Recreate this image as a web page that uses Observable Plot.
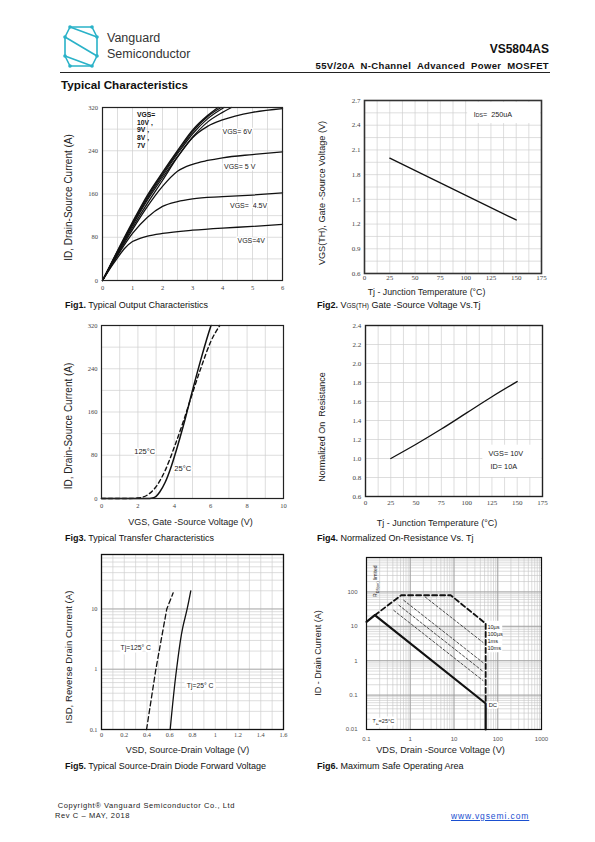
<!DOCTYPE html>
<html><head><meta charset="utf-8">
<script src="https://cdn.jsdelivr.net/npm/d3@7"></script>
<script src="https://cdn.jsdelivr.net/npm/@observablehq/plot@0.6"></script>
<style>
body{margin:0;width:595px;height:842px;position:relative;background:#fff;font-family:"Liberation Sans",Arial,sans-serif;color:#111;overflow:hidden}
.abs{position:absolute;white-space:nowrap;line-height:1}
.cap{font-size:9px;line-height:12px;color:#111}
svg{overflow:visible}
</style></head><body>
<svg class="abs" style="left:58px;top:20px" width="48" height="52" viewBox="58 20 48 52">
  <g fill="none" stroke="#2ab2c8" stroke-width="1.6" stroke-linejoin="round">
    <path d="M92,27 L70,27 L65,37 L97,56 L92,66 L70,66"/>
    <path d="M65,37 L65,56 L70,66 M97,56 L97,37 L92,27"/>
    <path d="M70,27 L97,37 M65,56 L92,66"/>
  </g>
  <g fill="#2ab2c8">
    <circle cx="70" cy="27" r="1.8"/><circle cx="92" cy="27" r="1.8"/><circle cx="65" cy="37" r="1.8"/><circle cx="97" cy="37" r="1.8"/>
    <circle cx="65" cy="56" r="1.8"/><circle cx="97" cy="56" r="1.8"/><circle cx="70" cy="66" r="1.8"/><circle cx="92" cy="66" r="1.8"/>
  </g>
</svg>
<div class="abs" style="left:107px;top:32.4px;font-size:12.5px;color:#333">Vanguard</div>
<div class="abs" style="left:107px;top:48.4px;font-size:12.5px;color:#333">Semiconductor</div>
<div class="abs" style="right:46px;top:42.8px;font-size:12px;font-weight:bold">VS5804AS</div>
<div class="abs" style="right:46px;top:61px;font-size:9.5px;font-weight:bold;letter-spacing:0.35px;word-spacing:3px">55V/20A N-Channel Advanced Power MOSFET</div>
<div class="abs" style="left:60px;top:71.5px;width:490px;height:1px;background:#222"></div>
<div class="abs" style="left:61px;top:79.1px;font-size:11.7px;font-weight:bold">Typical Characteristics</div>

<div class="abs cap" style="left:65px;top:298.5px"><b>Fig1.</b> Typical Output Characteristics</div>
<div class="abs cap" style="left:317px;top:298.5px"><b>Fig2.</b> V<span style="font-size:6.5px">GS(TH)</span> Gate -Source Voltage Vs.Tj</div>
<div class="abs cap" style="left:65px;top:532px"><b>Fig3.</b> Typical Transfer Characteristics</div>
<div class="abs cap" style="left:317px;top:532px"><b>Fig4.</b> Normalized On-Resistance Vs. Tj</div>
<div class="abs cap" style="left:65px;top:760px"><b>Fig5.</b> Typical Source-Drain Diode Forward Voltage</div>
<div class="abs cap" style="left:317px;top:760px"><b>Fig6.</b> Maximum Safe Operating Area</div>

<div class="abs" style="left:57.7px;top:801.7px;font-size:7.5px;letter-spacing:0.6px;color:#222">Copyright® Vanguard Semiconductor Co., Ltd</div>
<div class="abs" style="left:55px;top:812.2px;font-size:7.5px;letter-spacing:0.6px;color:#222">Rev C – MAY, 2018</div>
<div class="abs" style="left:451px;top:811.8px;font-size:8.5px;letter-spacing:0.9px;color:#1a4fd0;text-decoration:underline">www.vgsemi.com</div>

<script>
// ---------------- DATA ----------------
// Fig1 – Typical output characteristics: [VDS (V), ID (A)]
const out10V = [[0,0],[0.5,55],[1,108],[1.5,158],[2,200],[2.5,240],[3,278],[3.5,305],[3.85,320]];
const out9V  = [[0,0],[0.5,54],[1,106],[1.5,155],[2,197],[2.5,237],[3,275],[3.5,303],[3.95,320]];
const out8V  = [[0,0],[0.5,53],[1,104],[1.5,152],[2,194],[2.5,234],[3,271],[3.5,299],[4.05,320]];
const out7V  = [[0,0],[0.5,52],[1,102],[1.5,149],[2,190],[2.5,229],[3,265],[3.5,293],[4,311],[4.3,320]];
const out6V  = [[0,0],[0.5,50],[1,98],[1.5,143],[2,185],[2.5,228],[3,264],[3.5,285],[4,297],[5,311],[6,318]];
const out5V  = [[0,0],[0.5,48],[1,94],[1.5,137],[2,174],[2.5,202],[3,215],[3.5,222],[4,227],[5,233],[6,238]];
const out45V = [[0,0],[0.5,46],[1,87],[1.5,117],[2,137],[2.5,146],[3,151],[4,155],[5,158],[6,162]];
const out4V  = [[0,0],[0.25,22],[0.5,42],[0.75,60],[1,72],[1.25,78],[1.5,82],[2,87],[3,93],[4,97],[5,100],[6,104]];
const f1XTicks = [0,1,2,3,4,5,6];
const f1YTicks = [0,80,160,240,320];

// Fig2 – VGS(TH) vs Tj
const vthTj = [25,150];
const vthV  = [2.0,1.25];
const f2XTicks = [0,25,50,75,100,125,150,175];
const f2YTicks = [0.6,0.9,1.2,1.5,1.8,2.1,2.4,2.7];

// Fig3 – Transfer characteristics: [VGS (V), ID (A)]
const tr25C  = [[0,0],[2.5,0],[2.8,1],[3.0,4],[3.2,12],[3.5,30],[3.8,56],[4.1,88],[4.5,135],[5,200],[5.5,262],[6,318],[6.02,320]];
const tr125C = [[0,0],[1.5,0],[2,1],[2.5,6],[3,22],[3.5,52],[4,95],[4.5,143],[5,195],[5.5,245],[6,290],[6.5,320]];
const f3XTicks = [0,2,4,6,8,10];
const f3YTicks = [0,80,160,240,320];

// Fig4 – Normalized Rds(on) vs Tj
const rdsTj = [25,50,75,100,125,150];
const rdsN  = [1.0,1.15,1.31,1.48,1.65,1.81];
const f4XTicks = [0,25,50,75,100,125,150,175];
const f4YTicks = [0.6,0.8,1.0,1.2,1.4,1.6,1.8,2.0,2.2,2.4];

// Fig5 – Diode forward voltage: [VSD (V), ISD (A)]
const diode125C = [[0.396,0.1],[0.478,1],[0.574,10],[0.63,18.5]];
const diode25C  = [[0.604,0.1],[0.66,1],[0.715,5],[0.753,10],[0.785,20]];
const f5XTicks = [0,0.2,0.4,0.6,0.8,1,1.2,1.4,1.6];
const f5YTicks = [0.1,1,10];

// Fig6 – Safe operating area: [VDS (V), ID (A)]
const soaDC     = [[0.1,13.4],[0.155,21],[53,0.057],[53,0.01]];
const soaLimit  = [[0.155,21],[0.62,80],[8.4,80],[53,12],[53,0.057]];
const soa10us   = [[2.2,71],[46,3.4]];
const soa100us  = [[0.71,57],[46,0.88]];
const soa1ms    = [[0.55,41],[46,0.49]];
const soa10ms   = [[0.42,29],[46,0.265]];
const f6XTicks = [0.1,1,10,100,1000];
const f6YTicks = [0.01,0.1,1,10,100];

// ---------------- helpers ----------------
const GRID = "#cfcfcf";
const X = d => d[0], Y = d => d[1];
function logMinor(lo, hi) { // 1..9 x decade gridline positions
  const out = [];
  for (let e = Math.round(Math.log10(lo)); e < Math.round(Math.log10(hi)); e++)
    for (let m = 1; m <= 9; m++) out.push(m * Math.pow(10, e));
  out.push(hi);
  return out.filter(v => v <= hi * 1.0001);
}
function chart({x0,x1,y0,y1,x,y,marks}) {
  const ML=70, MR=30, MT=15, MB=45;
  const svg = Plot.plot({
    width: x1-x0+ML+MR, height: y1-y0+MT+MB,
    marginLeft: ML, marginRight: MR, marginTop: MT, marginBottom: MB,
    x, y,
    style: {background: "transparent", overflow: "visible", fontFamily: "Liberation Sans, Arial, sans-serif"},
    marks
  });
  svg.style.position = "absolute";
  svg.style.left = (x0-ML) + "px";
  svg.style.top = (y0-MT) + "px";
  svg.style.maxWidth = "none";
  document.body.appendChild(svg);
  return svg;
}
function yLabel(t, dx, dy, size) {
  return Plot.text([t], {text: d => d, frameAnchor: "left", textAnchor: "middle", lineAnchor: "middle", dx, dy, rotate: -90, fontSize: size, fill: "#222"});
}
function xLabel(t, dx, dy, size) {
  return Plot.text([t], {text: d => d, frameAnchor: "bottom", textAnchor: "middle", lineAnchor: "middle", dx, dy, fontSize: size, fill: "#222"});
}
function axX(ticks, pad, opts = {}) {
  return Plot.axisX(ticks, {tickSize: 0, tickPadding: pad, label: null, fontSize: 6.5, fontFamily: "Liberation Serif, serif", fill: "#444", tickFormat: d => String(d), ...opts});
}
function axY(ticks, pad, opts = {}) {
  return Plot.axisY(ticks, {tickSize: 0, tickPadding: pad, label: null, fontSize: 6.5, fontFamily: "Liberation Serif, serif", fill: "#444", tickFormat: d => String(d), ...opts});
}
function subscript(svg, full, parts) {
  for (const t of svg.querySelectorAll("text")) {
    if (t.textContent !== full) continue;
    t.textContent = "";
    let shift = 0;
    for (const [s, size, dy] of parts) {
      const ts = document.createElementNS("http://www.w3.org/2000/svg", "tspan");
      ts.textContent = s;
      if (size) ts.setAttribute("font-size", size);
      const d = (dy || 0) - shift;
      if (d) ts.setAttribute("dy", d);
      shift = dy || 0;
      t.appendChild(ts);
    }
  }
}
const lineStyle = {x: X, y: Y, stroke: "#111", curve: "monotone-x"};

// ---------------- Fig1 ----------------
chart({
  x0: 102, x1: 282, y0: 107, y1: 280,
  x: {domain: [0, 6]}, y: {domain: [0, 320]},
  marks: [
    Plot.gridX(d3.range(0, 6.01, 0.5), {stroke: GRID, strokeOpacity: 1, strokeWidth: 0.7}),
    Plot.gridY(d3.range(0, 321, 40), {stroke: GRID, strokeOpacity: 1, strokeWidth: 0.7}),
    Plot.line(out4V,  {...lineStyle, strokeWidth: 1.3}),
    Plot.line(out45V, {...lineStyle, strokeWidth: 1.3}),
    Plot.line(out5V,  {...lineStyle, strokeWidth: 1.3}),
    Plot.line(out6V,  {...lineStyle, strokeWidth: 1.3}),
    Plot.line(out7V,  {...lineStyle, strokeWidth: 1.2}),
    Plot.line(out8V,  {...lineStyle, strokeWidth: 1.2}),
    Plot.line(out9V,  {...lineStyle, strokeWidth: 1.2}),
    Plot.line(out10V, {...lineStyle, strokeWidth: 1.4}),
    Plot.text(["VGS= 6V"],   {text: d => d, x: 4.0,  y: 276, textAnchor: "start", fontSize: 7, fill: "#222", stroke: "white", strokeWidth: 3}),
    Plot.text(["VGS= 5 V"],  {text: d => d, x: 4.05, y: 210, textAnchor: "start", fontSize: 7, fill: "#222", stroke: "white", strokeWidth: 3}),
    Plot.text(["VGS=  4.5V"],{text: d => d, x: 4.25, y: 138, textAnchor: "start", fontSize: 7, fill: "#222", stroke: "white", strokeWidth: 3}),
    Plot.text(["VGS=4V"],    {text: d => d, x: 4.5,  y: 74,  textAnchor: "start", fontSize: 7, fill: "#222", stroke: "white", strokeWidth: 3}),
    Plot.text(["VGS=\n10V ,\n9V ,\n8V ,\n7V"], {text: d => d, x: 1.15, y: 313, textAnchor: "start", lineAnchor: "top", lineHeight: 1.15, fontSize: 6.8, fontWeight: "bold", fill: "#111"}),
    Plot.frame({stroke: "#222", strokeWidth: 1.2}),
    axX(f1XTicks, 4.5),
    axY(f1YTicks, 4.5),
    yLabel("ID, Drain-Source Current (A)", -34, 3.5, 10)
  ]
});

// ---------------- Fig2 ----------------
const s2 = chart({
  x0: 364, x1: 541, y0: 100, y1: 273,
  x: {domain: [0, 175]}, y: {domain: [0.6, 2.7]},
  marks: [
    Plot.gridX(d3.range(0, 175.1, 12.5), {stroke: GRID, strokeOpacity: 1, strokeWidth: 0.7}),
    Plot.gridY(d3.range(0.6, 2.71, 0.15), {stroke: GRID, strokeOpacity: 1, strokeWidth: 0.7}),
    Plot.rect([0], {x1: 102, x2: 174, y1: 2.42, y2: 2.675, fill: "white"}),
    Plot.text(["IDS= 250uA"], {text: d => d, x: 108, y: 2.53, textAnchor: "start", fontSize: 7.2, fill: "#222"}),
    Plot.line(vthTj.map((t, i) => [t, vthV[i]]), {x: X, y: Y, stroke: "#111", strokeWidth: 1.3}),
    Plot.frame({stroke: "#333", strokeWidth: 1.6}),
    axX(f2XTicks, 2, {fontSize: 7}),
    axY(f2YTicks, 4, {fontSize: 7, tickFormat: d => d.toFixed(1)}),
    yLabel("VGS(TH), Gate -Source Voltage (V)", -42, 6, 9.1),
    xLabel("Tj - Junction Temperature (°C)", -26.5, 19, 8.8)
  ]
});
subscript(s2, "IDS= 250uA", [["I"], ["DS", 5.2], ["=  250uA"]]);

// ---------------- Fig3 ----------------
chart({
  x0: 101, x1: 283, y0: 325, y1: 498,
  x: {domain: [0, 10]}, y: {domain: [0, 320]},
  marks: [
    Plot.gridX(d3.range(0, 10.1, 1), {stroke: GRID, strokeOpacity: 1, strokeWidth: 0.7}),
    Plot.gridY(d3.range(0, 321, 40), {stroke: GRID, strokeOpacity: 1, strokeWidth: 0.7}),
    Plot.line(tr125C, {...lineStyle, strokeWidth: 1.4, strokeDasharray: "4,3"}),
    Plot.line(tr25C,  {...lineStyle, strokeWidth: 1.5}),
    Plot.text(["125°C"], {text: d => d, x: 1.8, y: 86, textAnchor: "start", fontSize: 7.5, fill: "#222", stroke: "white", strokeWidth: 3}),
    Plot.text(["25°C"],  {text: d => d, x: 4.0, y: 55, textAnchor: "start", fontSize: 7.5, fill: "#222", stroke: "white", strokeWidth: 3}),
    Plot.frame({stroke: "#222", strokeWidth: 1.2}),
    axX(f3XTicks, 4.7),
    axY(f3YTicks, 4),
    yLabel("ID, Drain-Source Current (A)", -33, 14, 10),
    xLabel("VGS, Gate -Source Voltage (V)", -2, 24, 9)
  ]
});

// ---------------- Fig4 ----------------
chart({
  x0: 365, x1: 542, y0: 325, y1: 496,
  x: {domain: [0, 175]}, y: {domain: [0.6, 2.4]},
  marks: [
    Plot.gridX(d3.range(0, 175.1, 12.5), {stroke: GRID, strokeOpacity: 1, strokeWidth: 0.7}),
    Plot.gridY(d3.range(0.6, 2.41, 0.2), {stroke: GRID, strokeOpacity: 1, strokeWidth: 0.7}),
    Plot.rect([0], {x1: 116, x2: 174.5, y1: 0.8, y2: 1.14, fill: "white"}),
    Plot.text(["VGS= 10V"], {text: d => d, x: 121.6, y: 1.05, textAnchor: "start", fontSize: 7.3, fill: "#222"}),
    Plot.text(["ID= 10A"],  {text: d => d, x: 123.6, y: 0.91, textAnchor: "start", fontSize: 7.3, fill: "#222"}),
    Plot.line(rdsTj.map((t, i) => [t, rdsN[i]]), {...lineStyle, strokeWidth: 1.3}),
    Plot.frame({stroke: "#222", strokeWidth: 1.4}),
    axX(f4XTicks, 3.8, {fontSize: 7}),
    axY(f4YTicks, 4.3, {fontSize: 7, tickFormat: d => d.toFixed(1)}),
    yLabel("Normalized On  Resistance", -43, 16, 9),
    xLabel("Tj - Junction Temperature (°C)", -17, 27, 9)
  ]
});

// ---------------- Fig5 ----------------
chart({
  x0: 101, x1: 283, y0: 554, y1: 729,
  x: {domain: [0, 1.6]}, y: {type: "log", domain: [0.1, 80]},
  marks: [
    Plot.gridX(d3.range(0, 1.601, 0.1), {stroke: GRID, strokeOpacity: 1, strokeWidth: 0.7}),
    Plot.gridY(logMinor(0.1, 80), {stroke: GRID, strokeOpacity: 1, strokeWidth: 0.7}),
    Plot.gridY(f5YTicks, {stroke: "#aaa", strokeOpacity: 1, strokeWidth: 0.9}),
    Plot.text(["Tj=125° C"], {text: d => d, x: 0.167, y: 2.3, textAnchor: "start", fontSize: 6.8, fill: "#222", stroke: "white", strokeWidth: 5}),
    Plot.text(["Tj=25° C"],  {text: d => d, x: 0.75,  y: 0.54, textAnchor: "start", fontSize: 6.8, fill: "#222", stroke: "white", strokeWidth: 5}),
    Plot.line(diode125C, {x: X, y: Y, stroke: "#111", strokeWidth: 1.3, strokeDasharray: "5,3"}),
    Plot.line(diode25C,  {x: X, y: Y, stroke: "#111", strokeWidth: 1.3, curve: "monotone-y"}),
    Plot.frame({stroke: "#111", strokeWidth: 1.3}),
    axX(f5XTicks, 2.7, {fontSize: 6.3}),
    axY(f5YTicks, 4, {fontSize: 6.3}),
    yLabel("ISD, Reverse Drain Current (A)", -33, 15, 9.6),
    xLabel("VSD, Source-Drain Voltage (V)", -5, 21, 9)
  ]
});

// ---------------- Fig6 ----------------
const s6 = chart({
  x0: 366, x1: 541, y0: 557, y1: 729,
  x: {type: "log", domain: [0.1, 1000]}, y: {type: "log", domain: [0.01, 1000]},
  marks: [
    Plot.gridX(logMinor(0.1, 1000), {stroke: "#c4c4c4", strokeOpacity: 1, strokeWidth: 0.6}),
    Plot.gridY(logMinor(0.01, 1000), {stroke: "#c4c4c4", strokeOpacity: 1, strokeWidth: 0.6}),
    Plot.gridX(f6XTicks, {stroke: "#999", strokeOpacity: 1, strokeWidth: 0.8}),
    Plot.gridY(f6YTicks.concat([1000]), {stroke: "#999", strokeOpacity: 1, strokeWidth: 0.8}),
    Plot.rect([0], {x1: 56, x2: 130, y1: 1.7, y2: 14, fill: "white"}),
    Plot.line(soa10us,  {x: X, y: Y, stroke: "#222", strokeWidth: 0.8, strokeDasharray: "2.5,2"}),
    Plot.line(soa100us, {x: X, y: Y, stroke: "#222", strokeWidth: 0.8, strokeDasharray: "2.5,2"}),
    Plot.line(soa1ms,   {x: X, y: Y, stroke: "#222", strokeWidth: 0.8, strokeDasharray: "2.5,2"}),
    Plot.line(soa10ms,  {x: X, y: Y, stroke: "#222", strokeWidth: 0.8, strokeDasharray: "2.5,2"}),
    Plot.line(soaLimit, {x: X, y: Y, stroke: "#111", strokeWidth: 1.8, strokeDasharray: "5,3"}),
    Plot.line(soaDC,    {x: X, y: Y, stroke: "#111", strokeWidth: 2.2}),
    Plot.text(["10µs\n100µs\n1ms\n10ms"], {text: d => d, x: 58, y: 11.5, textAnchor: "start", lineAnchor: "top", lineHeight: 1.25, fontSize: 5.6, fill: "#222"}),
    Plot.text(["DC"], {text: d => d, x: 62, y: 0.05, textAnchor: "start", fontSize: 5.8, fill: "#222", stroke: "white", strokeWidth: 4}),
    Plot.text(["TA=25°C"], {text: d => d, x: 0.137, y: 0.017, textAnchor: "start", fontSize: 5.6, fill: "#222", stroke: "white", strokeWidth: 5}),
    Plot.text(["RDS(on) limited"], {text: d => d, x: 0.16, y: 205, rotate: -90, fontSize: 5, fill: "#222"}),
    Plot.frame({stroke: "#111", strokeWidth: 1.2}),
    axX(f6XTicks, 7, {fontSize: 6, fontFamily: "Liberation Sans, sans-serif", fill: "#555"}),
    axY(f6YTicks, 9, {fontSize: 6, fontFamily: "Liberation Sans, sans-serif", fill: "#555"}),
    yLabel("ID - Drain Current (A)", -48, 9.5, 9),
    xLabel("VDS, Drain -Source Voltage (V)", -13.5, 21, 9.2)
  ]
});
subscript(s6, "TA=25°C", [["T"], ["A", 4, 1.5], ["=25°C", null, 0]]);
subscript(s6, "RDS(on) limited", [["R"], ["DS(on)", 3.8, 1.5], [" limited", null, 0]]);
</script>
</body></html>
